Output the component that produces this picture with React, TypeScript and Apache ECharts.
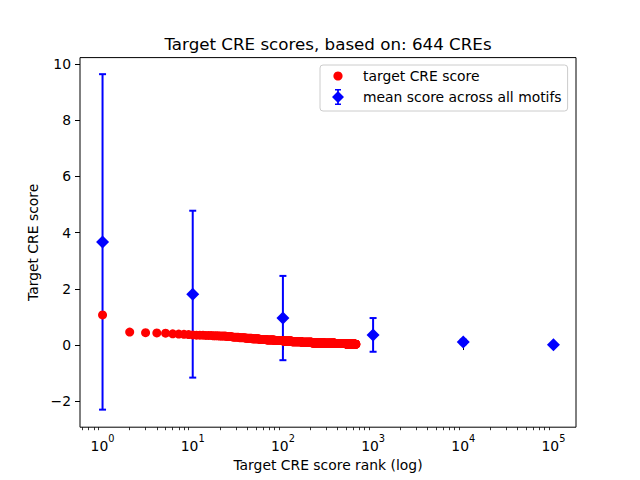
import React, { useEffect, useRef } from 'react';
import * as echarts from 'echarts';

const chartTitle = 'Target CRE scores, based on: 644 CREs';
const xAxisName = 'Target CRE score rank (log)';
const yAxisName = 'Target CRE score';
const targetName = 'target CRE score';
const meanName = 'mean score across all motifs';

// target CRE score by rank, run-length encoded: [score, number of consecutive ranks]
const targetScoreRuns: [number, number][] = [
  [1.07, 1], [0.46, 1], [0.44, 1], [0.43, 1], [0.42, 1], [0.40, 1], [0.39, 1], [0.38, 1],
  [0.37, 1], [0.36, 1], [0.35, 3], [0.34, 3], [0.33, 3], [0.32, 4], [0.30, 4], [0.28, 5],
  [0.26, 6], [0.24, 7], [0.22, 9], [0.20, 11], [0.18, 15], [0.16, 20], [0.14, 25],
  [0.12, 35], [0.10, 50], [0.08, 70], [0.06, 100], [0.05, 120], [0.04, 100], [0.03, 44],
];

const meanRanks = [1, 10, 100, 1000, 10000, 100000];
const meanScores = [3.67, 1.81, 0.96, 0.36, 0.11, 0.01];
const meanErrors = [5.97, 2.97, 1.5, 0.6, 0.08, 0.02];

const xMajorTicks = [1, 10, 100, 1000, 10000, 100000];
const xMinorMultipliers = [2, 3, 4, 5, 6, 7, 8, 9];
const xMinorDecades = [0.1, 1, 10, 100, 1000, 10000, 100000];
const yTicks = [-2, 0, 2, 4, 6, 8, 10];

const X_MIN = Math.pow(10, -0.25);
const X_MAX = Math.pow(10, 5.25);
const Y_MIN = -2.925;
const Y_MAX = 10.23;

const FONT = "'DejaVu Sans', sans-serif";

const circleIcon = 'path://M0 0h0.01v0.01h-0.01zM16 16h0.01v0.01h-0.01zM8 3.4a4.6 4.6 0 1 1 -0.001 0z';
const errIcon = 'path://M5 0h6v1.6h-6zM5 14.4h6v1.6h-6zM7.1 1.6h1.8v12.8h-1.8zM8 2l6 6l-6 6l-6 -6z';

export default function App() {
  const ref = useRef<HTMLDivElement>(null);
  useEffect(() => {
    if (!ref.current) return;
    const chart = echarts.init(ref.current, null, { renderer: 'svg' });

    const targetData: number[][] = [];
    let rank = 1;
    for (const [score, count] of targetScoreRuns) {
      for (let i = 0; i < count; i++) {
        targetData.push([rank, score]);
        rank++;
      }
    }
    const meanData = meanRanks.map((r, i) => [r, meanScores[i]]);
    const errData = meanRanks.map((r, i) => [r, meanScores[i], meanErrors[i]]);
    const xMinorTicks: number[] = [];
    for (const d of xMinorDecades) {
      for (const m of xMinorMultipliers) {
        const v = d * m;
        if (v > X_MIN && v < X_MAX) xMinorTicks.push(v);
      }
    }

    const labelStyle = { color: '#000', fontSize: 13.9, fontFamily: FONT };

    chart.setOption({
      animation: false,
      backgroundColor: '#fff',
      title: {
        text: chartTitle,
        left: 328,
        top: 35,
        textAlign: 'center',
        padding: 0,
        textStyle: { color: '#000', fontSize: 16.7, fontWeight: 'normal', fontFamily: FONT },
      },
      legend: {
        left: 320,
        top: 65,
        orient: 'vertical',
        selectedMode: false,
        itemWidth: 20,
        itemHeight: 16,
        itemGap: 5,
        padding: [3, 6, 6, 10],
        borderColor: '#cccccc',
        borderWidth: 1,
        borderRadius: 3,
        backgroundColor: 'rgba(255,255,255,0.8)',
        textStyle: { color: '#000', fontSize: 13.9, fontFamily: FONT, lineHeight: 16, padding: [0, 0, 0, 10] },
        data: [
          { name: targetName, icon: circleIcon },
          { name: meanName, icon: errIcon },
        ],
      },
      grid: {
        left: 80,
        right: 64,
        top: 57.6,
        bottom: 52.8,
        show: true,
        borderColor: '#000',
        borderWidth: 1,
        backgroundColor: 'transparent',
      },
      xAxis: [
        {
          type: 'log',
          logBase: 10,
          min: X_MIN,
          max: X_MAX,
          name: xAxisName,
          nameLocation: 'middle',
          nameGap: 31,
          nameTextStyle: labelStyle,
          axisLine: { show: false },
          splitLine: { show: false },
          axisTick: { show: true, customValues: xMajorTicks, length: 5, lineStyle: { color: '#000', width: 1 } },
          axisLabel: {
            customValues: xMajorTicks,
            margin: 6,
            color: '#000',
            fontFamily: FONT,
            formatter: (v: number) => {
              const e = String(Math.round(Math.log10(v)));
              return '{b|10}{s|' + e + '}';
            },
            rich: {
              b: { fontSize: 13.9, fontFamily: FONT, color: '#000', lineHeight: 20, verticalAlign: 'bottom' },
              s: { fontSize: 9.8, fontFamily: FONT, color: '#000', lineHeight: 20, verticalAlign: 'top' },
            },
          },
        },
        {
          type: 'log',
          logBase: 10,
          min: X_MIN,
          max: X_MAX,
          position: 'bottom',
          axisLine: { show: false },
          splitLine: { show: false },
          axisTick: { show: true, customValues: xMinorTicks, length: 3, lineStyle: { color: '#000', width: 0.8 } },
          axisLabel: { show: false },
        },
      ],
      yAxis: {
        type: 'value',
        min: Y_MIN,
        max: Y_MAX,
        name: yAxisName,
        nameLocation: 'middle',
        nameGap: 37,
        nameTextStyle: labelStyle,
        axisLine: { show: false },
        splitLine: { show: false },
        axisTick: { show: true, customValues: yTicks, length: 5, lineStyle: { color: '#000', width: 1 } },
        axisLabel: {
          customValues: yTicks,
          margin: 9,
          ...labelStyle,
          formatter: (v: number) => String(v).replace('-', '\u2212'),
        },
      },
      series: [
        {
          name: 'errorbars',
          type: 'custom',
          xAxisIndex: 0,
          z: 2,
          encode: { x: 0, y: 1 },
          data: errData,
          renderItem: (params: any, api: any) => {
            const x = api.value(0);
            const y = api.value(1);
            const e = api.value(2);
            const top = api.coord([x, y + e]);
            const bot = api.coord([x, y - e]);
            const hw = 3.5;
            const style = { stroke: '#0000ff', lineWidth: 2 };
            return {
              type: 'group',
              children: [
                { type: 'line', shape: { x1: top[0], y1: top[1], x2: bot[0], y2: bot[1] }, style },
                { type: 'line', shape: { x1: top[0] - hw, y1: top[1], x2: top[0] + hw, y2: top[1] }, style },
                { type: 'line', shape: { x1: bot[0] - hw, y1: bot[1], x2: bot[0] + hw, y2: bot[1] }, style },
              ],
            };
          },
        },
        {
          name: meanName,
          type: 'scatter',
          xAxisIndex: 0,
          z: 3,
          symbol: 'diamond',
          symbolSize: 13,
          itemStyle: { color: '#0000ff', opacity: 1 },
          data: meanData,
        },
        {
          name: targetName,
          type: 'scatter',
          xAxisIndex: 0,
          z: 4,
          symbol: 'circle',
          symbolSize: 9,
          itemStyle: { color: '#ff0000', opacity: 1 },
          data: targetData,
        },
      ],
    });
    return () => chart.dispose();
  }, []);
  return <div ref={ref} style={{ position: 'fixed', left: 0, top: 0, width: 640, height: 480 }} />;
}
